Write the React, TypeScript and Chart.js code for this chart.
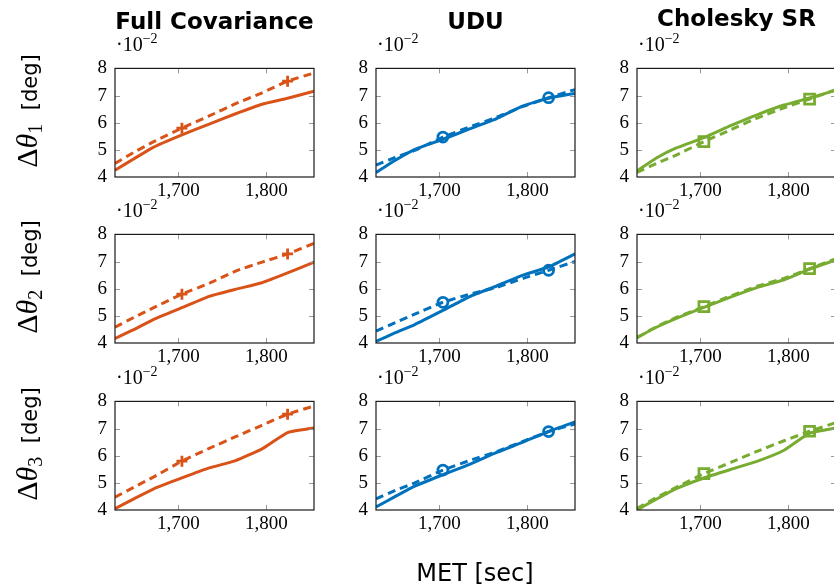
import React, { useEffect, useRef } from "react";
import { Chart, registerables } from "chart.js";

Chart.register(...registerables);

// ---------- data ----------
const MET = [1628, 1650, 1672, 1704, 1735, 1765, 1795, 1824, 1854];
const MARKER_IDX = [3, 7];
const X_TICKS = [1700, 1800];
const Y_TICKS = [4, 5, 6, 7, 8];
const METHODS = ["Full Covariance", "UDU", "Cholesky SR"];
const ROW_SUBS = ["1", "2", "3"];

// values in units of 1e-2 deg
const fullCovT1Solid = [4.25, 4.68, 5.1, 5.55, 5.95, 6.33, 6.68, 6.9, 7.16];
const fullCovT1Dashed = [4.5, 4.92, 5.3, 5.8, 6.25, 6.7, 7.1, 7.53, 7.83];
const fullCovT2Solid = [4.17, 4.5, 4.87, 5.3, 5.72, 5.98, 6.22, 6.58, 6.98];
const fullCovT2Dashed = [4.58, 4.95, 5.3, 5.8, 6.2, 6.65, 6.98, 7.28, 7.67];
const fullCovT3Solid = [4.05, 4.42, 4.78, 5.18, 5.55, 5.82, 6.25, 6.85, 7.02];
const fullCovT3Dashed = [4.47, 4.85, 5.22, 5.8, 6.27, 6.7, 7.12, 7.53, 7.83];

const uduT1Solid = [4.17, 4.62, 5.02, 5.39, 5.78, 6.15, 6.62, 6.9, 7.08];
const uduT1Dashed = [4.44, 4.72, 4.98, 5.47, 5.85, 6.2, 6.6, 6.92, 7.22];
const uduT2Solid = [4.06, 4.38, 4.68, 5.2, 5.72, 6.1, 6.5, 6.8, 7.28];
const uduT2Dashed = [4.44, 4.75, 5.06, 5.5, 5.8, 6.05, 6.38, 6.68, 7.0];
const uduT3Solid = [4.11, 4.5, 4.88, 5.3, 5.69, 6.12, 6.5, 6.89, 7.24];
const uduT3Dashed = [4.41, 4.72, 5.0, 5.47, 5.83, 6.15, 6.53, 6.89, 7.17];

const cholT1Solid = [4.22, 4.7, 5.06, 5.45, 5.9, 6.3, 6.65, 6.91, 7.2];
const cholT1Dashed = [4.17, 4.5, 4.8, 5.3, 5.75, 6.18, 6.55, 6.87, 7.22];
const cholT2Solid = [4.2, 4.58, 4.9, 5.31, 5.7, 6.05, 6.33, 6.72, 7.06];
const cholT2Dashed = [4.2, 4.6, 4.93, 5.34, 5.74, 6.1, 6.38, 6.74, 7.11];
const cholT3Solid = [4.0, 4.4, 4.78, 5.18, 5.5, 5.8, 6.2, 6.83, 7.02];
const cholT3Dashed = [4.06, 4.46, 4.83, 5.34, 5.76, 6.17, 6.55, 6.9, 7.22];

// ---------- styles ----------
const COLORS = ["#D95319", "#0072BD", "#77AC30"];
const MARKERS = ["cross", "circle", "rect"];
const MARKER_R = [5.5, 5, 7];
const PLOT_LEFT = [115, 376, 637];
const PLOT_TOP = [57, 223, 390];
const PLOT_W = 199;
const PLOT_H = 120;
const PAD_L = 30;
const PAD_T = 8;
const PAD_R = 10;
const PAD_B = 30;
const TITLE_BASE = [29, 29, 25.5];
const SERIF = "'Liberation Serif', 'DejaVu Serif', serif";
const SANS = "'DejaVu Sans', sans-serif";

const PANELS = [
  [[fullCovT1Solid, fullCovT1Dashed], [uduT1Solid, uduT1Dashed], [cholT1Solid, cholT1Dashed]],
  [[fullCovT2Solid, fullCovT2Dashed], [uduT2Solid, uduT2Dashed], [cholT2Solid, cholT2Dashed]],
  [[fullCovT3Solid, fullCovT3Dashed], [uduT3Solid, uduT3Dashed], [cholT3Solid, cholT3Dashed]],
];

const framePlugin = {
  id: "frameTicks",
  afterDraw(chart: any) {
    const { ctx, chartArea: a, scales } = chart;
    ctx.save();
    ctx.strokeStyle = "#999";
    ctx.lineWidth = 1;
    const tl = 5;
    ctx.beginPath();
    for (const v of X_TICKS) {
      const px = Math.round(scales.x.getPixelForValue(v)) + 0.5;
      if (px <= a.left + 1 || px >= a.right - 1) continue;
      ctx.moveTo(px, a.top);
      ctx.lineTo(px, a.top + tl);
      ctx.moveTo(px, a.bottom);
      ctx.lineTo(px, a.bottom - tl);
    }
    for (const v of Y_TICKS) {
      const py = Math.round(scales.y.getPixelForValue(v)) + 0.5;
      if (py <= a.top + 1 || py >= a.bottom - 1) continue;
      ctx.moveTo(a.left, py);
      ctx.lineTo(a.left + tl, py);
      ctx.moveTo(a.right, py);
      ctx.lineTo(a.right - tl, py);
    }
    ctx.stroke();
    ctx.strokeStyle = "#1a1a1a";
    ctx.lineWidth = 1.2;
    ctx.strokeRect(a.left, a.top, a.right - a.left, a.bottom - a.top);
    ctx.restore();
  },
};

function Panel({ row, col }: { row: number; col: number }) {
  const ref = useRef<HTMLCanvasElement>(null);
  useEffect(() => {
    const [solid, dashed] = PANELS[row][col];
    const color = COLORS[col];
    const chart = new Chart(ref.current as HTMLCanvasElement, {
      type: "line",
      data: {
        datasets: [
          {
            data: MET.map((x, i) => ({ x, y: solid[i] })),
            borderColor: color,
            borderWidth: 3,
            pointRadius: 0,
            tension: 0.15,
          },
          {
            data: MET.map((x, i) => ({ x, y: dashed[i] })),
            borderColor: color,
            borderWidth: 3,
            borderDash: [8, 5],
            pointRadius: MET.map((_, i) => (MARKER_IDX.includes(i) ? MARKER_R[col] : 0)),
            pointStyle: MARKERS[col] as any,
            pointBorderColor: color,
            pointBackgroundColor: "rgba(255,255,255,0)",
            pointBorderWidth: 2.8,
            tension: 0.15,
          },
        ],
      },
      options: {
        animation: false,
        responsive: false,
        events: [],
        layout: { padding: { top: PAD_T, right: PAD_R, left: 0, bottom: 0 } },
        plugins: { legend: { display: false }, tooltip: { enabled: false } },
        scales: {
          x: {
            type: "linear",
            min: 1628,
            max: 1854,
            afterBuildTicks: (s: any) => {
              s.ticks = X_TICKS.map((value) => ({ value }));
            },
            afterFit: (s: any) => {
              s.height = PAD_B;
            },
            grid: { display: false, drawTicks: false },
            border: { display: false },
            ticks: {
              padding: 3,
              color: "#000",
              maxRotation: 0,
              autoSkip: false,
              font: { family: SERIF, size: 19 },
              callback: (v: any) => Number(v).toLocaleString("en-US"),
            },
          },
          y: {
            type: "linear",
            min: 4,
            max: 8,
            afterBuildTicks: (s: any) => {
              s.ticks = Y_TICKS.map((value) => ({ value }));
            },
            afterFit: (s: any) => {
              s.width = PAD_L;
            },
            grid: { display: false, drawTicks: false },
            border: { display: false },
            ticks: {
              padding: 8,
              color: "#000",
              autoSkip: false,
              font: { family: SERIF, size: 19 },
              callback: (v: any) => String(v),
            },
          },
        },
      },
      plugins: [framePlugin],
    } as any);
    return () => chart.destroy();
  }, [row, col]);
  const w = PAD_L + PLOT_W + PAD_R;
  const h = PAD_T + PLOT_H + PAD_B;
  return (
    <canvas
      ref={ref}
      width={w}
      height={h}
      style={{
        position: "absolute",
        left: PLOT_LEFT[col] - PAD_L,
        top: PLOT_TOP[row] - PAD_T,
        width: w,
        height: h,
      }}
    />
  );
}

export default function App() {
  return (
    <div
      style={{
        position: "fixed",
        left: 0,
        top: 0,
        width: 834,
        height: 587,
        overflow: "hidden",
        background: "#fff",
      }}
    >
      {PLOT_TOP.map((_, r) =>
        PLOT_LEFT.map((_, c) => <Panel key={`${r}-${c}`} row={r} col={c} />)
      )}
      <svg
        width={834}
        height={587}
        style={{ position: "absolute", left: 0, top: 0, pointerEvents: "none" }}
      >
        {METHODS.map((m, i) => (
          <text
            key={m}
            x={PLOT_LEFT[i] + PLOT_W / 2}
            y={TITLE_BASE[i]}
            textAnchor="middle"
            fontFamily={SANS}
            fontWeight="bold"
            fontSize={23}
            fill="#000"
          >
            {m}
          </text>
        ))}
        {ROW_SUBS.map((s, r) => (
          <text
            key={"yl" + s}
            transform={`translate(37, ${PLOT_TOP[r] + PLOT_H / 2 - 6}) rotate(-90)`}
            textAnchor="middle"
            fill="#000"
          >
            <tspan fontFamily={SERIF} fontSize={30}>Δ</tspan>
            <tspan fontFamily={SERIF} fontSize={30} fontStyle="italic">θ</tspan>
            <tspan fontFamily={SERIF} fontSize={20} dy={5}>{s}</tspan>
            <tspan fontFamily={SANS} fontSize={21} dy={-5}>{"\u00a0 [deg]"}</tspan>
          </text>
        ))}
        {PLOT_TOP.map((t, r) =>
          PLOT_LEFT.map((l, c) => (
            <text key={`e${r}${c}`} x={l + 1} y={t - 6} fontFamily={SERIF} fontSize={20} fill="#000">
              ·10
              <tspan fontSize={14} dy={-8}>−2</tspan>
            </text>
          ))
        )}
        <text x={475} y={581} textAnchor="middle" fontFamily={SANS} fontSize={24} fill="#000">
          MET [sec]
        </text>
      </svg>
    </div>
  );
}
